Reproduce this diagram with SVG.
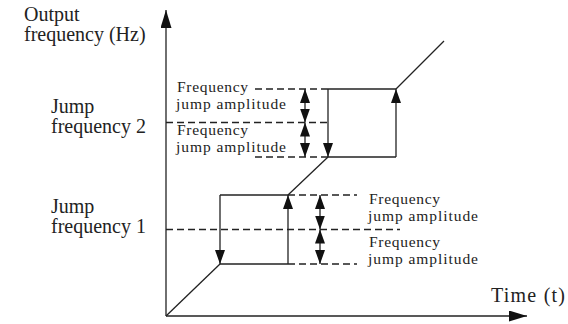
<svg xmlns="http://www.w3.org/2000/svg" width="568" height="324" viewBox="0 0 568 324">
<style>
.t{font-family:"Liberation Serif","Times New Roman",serif;fill:#222;}
.ax{font-size:20px;}
.lb{font-size:15.5px;}
.ln{stroke:#222;stroke-width:1.3;fill:none;}
.dash{stroke:#222;stroke-width:1.3;fill:none;stroke-dasharray:7 4;}
</style>
<defs>
<marker id="ah" markerUnits="userSpaceOnUse" markerWidth="14" markerHeight="10" refX="14" refY="5" orient="auto-start-reverse" viewBox="0 0 14 10">
<path d="M0,0 L14,5 L0,10 z" fill="#111"/>
</marker>
<marker id="axh" markerUnits="userSpaceOnUse" markerWidth="18" markerHeight="11" refX="18" refY="5.5" orient="auto" viewBox="0 0 18 11">
<path d="M0,0 L18,5.5 L0,11 z" fill="#111"/>
</marker>
</defs>
<rect width="568" height="324" fill="#fff"/>
<g id="axes">
<line class="ln" x1="166" y1="316" x2="166" y2="10" marker-end="url(#axh)"/>
<line class="ln" x1="166" y1="316" x2="527" y2="316" marker-end="url(#axh)"/>
</g>
<g id="dashed-lines">
<line class="dash" x1="255" y1="89" x2="328" y2="89"/>
<line class="dash" x1="166" y1="122.5" x2="328" y2="122.5"/>
<line class="dash" x1="255" y1="157" x2="328" y2="157"/>
<line class="dash" x1="288" y1="195" x2="357" y2="195"/>
<line class="dash" x1="166" y1="229.5" x2="400" y2="229.5"/>
<line class="dash" x1="288" y1="264" x2="357" y2="264"/>
</g>
<g id="curve">
<line class="ln" x1="166" y1="316" x2="220" y2="264"/>
<line class="ln" x1="220" y1="195" x2="288" y2="195"/>
<line class="ln" x1="220" y1="264" x2="288" y2="264"/>
<line class="ln" x1="220" y1="195" x2="220" y2="264" marker-end="url(#ah)"/>
<line class="ln" x1="288" y1="264" x2="288" y2="195" marker-end="url(#ah)"/>
<line class="ln" x1="288" y1="195" x2="328" y2="157"/>
<line class="ln" x1="328" y1="89" x2="396" y2="89"/>
<line class="ln" x1="328" y1="157" x2="396" y2="157"/>
<line class="ln" x1="328" y1="89" x2="328" y2="157" marker-end="url(#ah)"/>
<line class="ln" x1="396" y1="157" x2="396" y2="89" marker-end="url(#ah)"/>
<line class="ln" x1="396" y1="89" x2="444" y2="41"/>
</g>
<g id="amplitude-arrows">
<line class="ln" x1="305" y1="89" x2="305" y2="122.5" marker-start="url(#ah)" marker-end="url(#ah)"/>
<line class="ln" x1="305" y1="122.5" x2="305" y2="157" marker-start="url(#ah)" marker-end="url(#ah)"/>
<line class="ln" x1="320" y1="195" x2="320" y2="229.5" marker-start="url(#ah)" marker-end="url(#ah)"/>
<line class="ln" x1="320" y1="229.5" x2="320" y2="264" marker-start="url(#ah)" marker-end="url(#ah)"/>
</g>
<g id="labels">
<text class="t ax" x="24" y="21">Output</text>
<text class="t ax" x="24" y="41">frequency (Hz)</text>
<text class="t ax" x="51" y="113">Jump</text>
<text class="t ax" x="51" y="133">frequency 2</text>
<text class="t ax" x="51" y="213">Jump</text>
<text class="t ax" x="51" y="233">frequency 1</text>
<text class="t ax" x="491" y="302" textLength="74">Time (t)</text>
<text class="t lb" x="177" y="92" textLength="71">Frequency</text>
<text class="t lb" x="176" y="109" textLength="110">jump amplitude</text>
<text class="t lb" x="177" y="135" textLength="71">Frequency</text>
<text class="t lb" x="176" y="152" textLength="110">jump amplitude</text>
<text class="t lb" x="369" y="204" textLength="71">Frequency</text>
<text class="t lb" x="368" y="221" textLength="110">jump amplitude</text>
<text class="t lb" x="369" y="247" textLength="71">Frequency</text>
<text class="t lb" x="368" y="264" textLength="110">jump amplitude</text>
</g>
</svg>
